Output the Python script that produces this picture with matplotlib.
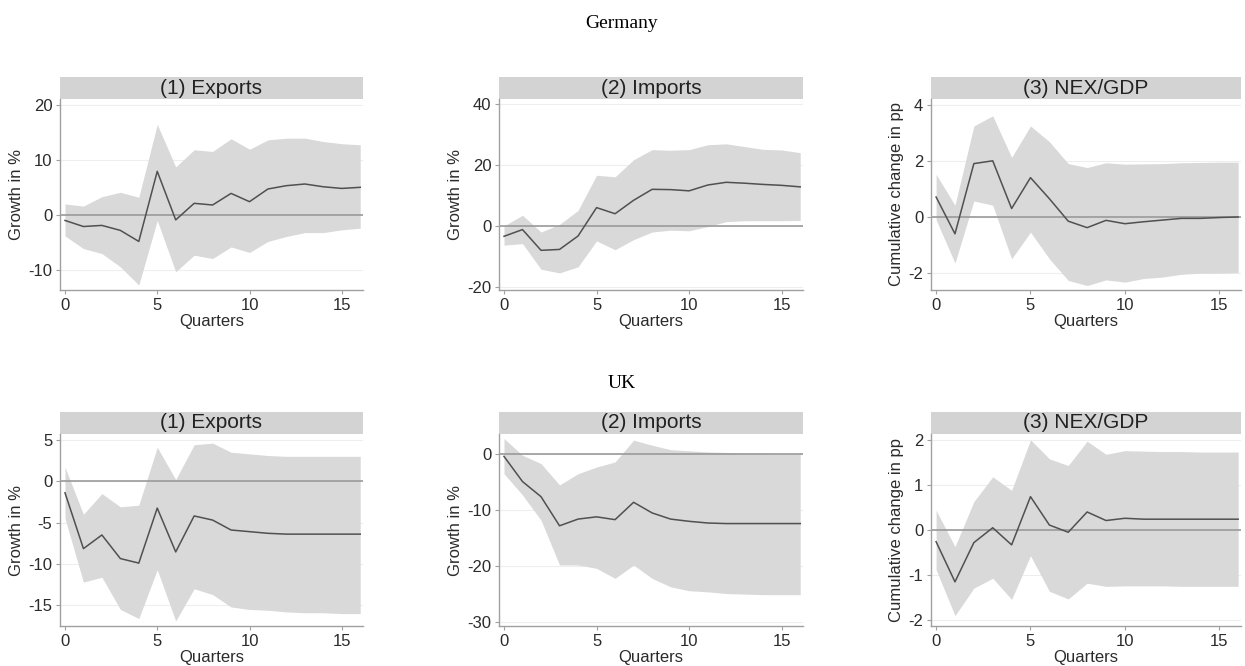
import matplotlib
matplotlib.use("Agg")
import matplotlib.pyplot as plt
from matplotlib.patches import Rectangle

plt.rcParams['font.family'] = ['Liberation Sans', 'DejaVu Sans']
plt.rcParams['axes.unicode_minus'] = False

quarters = list(range(17))

# Germany
de_exp = [-1.0, -2.1, -1.9, -2.8, -4.8, 7.9, -0.9, 2.1, 1.8, 3.9, 2.4, 4.7, 5.3, 5.6, 5.1, 4.8, 5.0]
de_exp_hi = [2.0, 1.6, 3.3, 4.1, 3.2, 16.4, 8.7, 11.8, 11.5, 13.8, 11.9, 13.6, 13.9, 13.9, 13.3, 12.9, 12.7]
de_exp_lo = [-3.8, -6.1, -7.0, -9.4, -12.7, -1.0, -10.3, -7.3, -7.9, -5.8, -6.8, -4.8, -3.9, -3.2, -3.2, -2.7, -2.4]

de_imp = [-3.4, -1.2, -8.0, -7.7, -3.3, 6.0, 4.0, 8.4, 12.0, 11.9, 11.5, 13.4, 14.3, 14.0, 13.6, 13.3, 12.8]
de_imp_hi = [0.0, 3.5, -2.0, 0.5, 5.1, 16.6, 16.1, 21.7, 25.0, 24.8, 25.0, 26.6, 26.9, 26.0, 25.1, 24.9, 24.0]
de_imp_lo = [-6.3, -5.8, -14.2, -15.4, -13.4, -4.9, -7.8, -4.5, -2.0, -1.4, -1.6, -0.2, 1.4, 1.7, 1.7, 1.7, 1.8]

de_nex = [0.71, -0.6, 1.9, 2.0, 0.3, 1.4, 0.65, -0.15, -0.38, -0.12, -0.24, -0.17, -0.11, -0.05, -0.05, -0.02, 0.0]
de_nex_hi = [1.52, 0.42, 3.24, 3.6, 2.12, 3.24, 2.68, 1.9, 1.76, 1.93, 1.88, 1.89, 1.9, 1.93, 1.94, 1.95, 1.95]
de_nex_lo = [-0.1, -1.64, 0.57, 0.42, -1.49, -0.54, -1.49, -2.26, -2.44, -2.24, -2.32, -2.19, -2.14, -2.04, -2.0, -2.0, -1.98]

# UK
uk_exp = [-1.4, -8.15, -6.5, -9.35, -9.9, -3.25, -8.55, -4.2, -4.7, -5.9, -6.1, -6.3, -6.4, -6.4, -6.4, -6.4, -6.4]
uk_exp_hi = [1.7, -4.0, -1.5, -3.1, -2.9, 4.1, 0.2, 4.4, 4.6, 3.5, 3.3, 3.1, 3.0, 3.0, 3.0, 3.0, 3.0]
uk_exp_lo = [-4.5, -12.2, -11.6, -15.5, -16.6, -10.7, -16.9, -13.0, -13.7, -15.2, -15.5, -15.6, -15.8, -15.9, -15.9, -16.0, -16.0]

uk_imp = [-0.4, -4.9, -7.6, -12.8, -11.6, -11.2, -11.7, -8.6, -10.5, -11.6, -12.0, -12.3, -12.4, -12.4, -12.4, -12.4, -12.4]
uk_imp_hi = [2.8, -0.2, -1.7, -5.5, -3.5, -2.3, -1.4, 2.5, 1.6, 0.8, 0.6, 0.4, 0.3, 0.2, 0.1, 0.0, 0.0]
uk_imp_lo = [-3.5, -7.3, -11.8, -19.8, -19.8, -20.4, -22.2, -19.8, -22.2, -23.7, -24.4, -24.6, -24.9, -25.0, -25.1, -25.1, -25.1]

uk_nex = [-0.26, -1.15, -0.28, 0.05, -0.33, 0.74, 0.11, -0.05, 0.40, 0.21, 0.26, 0.24, 0.24, 0.24, 0.24, 0.24, 0.24]
uk_nex_hi = [0.44, -0.37, 0.63, 1.18, 0.88, 2.0, 1.58, 1.43, 1.97, 1.68, 1.76, 1.75, 1.74, 1.74, 1.73, 1.73, 1.73]
uk_nex_lo = [-0.88, -1.9, -1.29, -1.07, -1.54, -0.57, -1.36, -1.53, -1.18, -1.25, -1.24, -1.24, -1.24, -1.25, -1.25, -1.25, -1.25]

panel_titles = ['(1) Exports', '(2) Imports', '(3) NEX/GDP']
y_labels = ['Growth in %', 'Growth in %', 'Cumulative change in pp']

panels = [
  # (row, col, line, hi, lo, ylim, yticks)
  (0, 0, de_exp, de_exp_hi, de_exp_lo, (-13.6, 21.0), [-10, 0, 10, 20]),
  (0, 1, de_imp, de_imp_hi, de_imp_lo, (-21.0, 41.6), [-20, 0, 20, 40]),
  (0, 2, de_nex, de_nex_hi, de_nex_lo, (-2.6, 4.2), [-2, 0, 2, 4]),
  (1, 0, uk_exp, uk_exp_hi, uk_exp_lo, (-17.5, 5.7), [-15, -10, -5, 0, 5]),
  (1, 1, uk_imp, uk_imp_hi, uk_imp_lo, (-30.7, 3.6), [-30, -20, -10, 0]),
  (1, 2, uk_nex, uk_nex_hi, uk_nex_lo, (-2.13, 2.13), [-2, -1, 0, 1, 2]),
]

W, H = 1245, 666
fig = plt.figure(figsize=(W / 100, H / 100), dpi=100)

# pixel boxes for the plot areas (left, right) and (top, bottom)
col_px = [(60, 363), (499, 803), (931, 1241)]
row_px = [(99, 290), (434, 626)]
strip_px = 22

txt = '#2b2b2b'
axis_col = '#a0a0a0'

for row, col, line, hi, lo, ylim, yticks in panels:
  x0, x1 = col_px[col]
  top, bot = row_px[row]
  ax = fig.add_axes([x0 / W, 1 - bot / H, (x1 - x0) / W, (bot - top) / H])

  ax.fill_between(quarters, lo, hi, color='#d9d9d9', linewidth=0)
  ax.axhline(0, color='#9a9a9a', linewidth=1.2)
  ax.plot(quarters, line, color='#505050', linewidth=1.1)

  ax.set_xlim(-0.27, 16.15)
  ax.set_ylim(*ylim)
  ax.set_xticks([0, 5, 10, 15])
  ax.set_yticks(yticks)
  ax.grid(axis='y', color='#eeeeee', linewidth=0.8)
  ax.set_axisbelow(True)

  for s in ['top', 'right']:
    ax.spines[s].set_visible(False)
  for s in ['left', 'bottom']:
    ax.spines[s].set_color(axis_col)
    ax.spines[s].set_linewidth(1.0)
  ax.tick_params(colors=axis_col, labelcolor=txt, labelsize=12, length=3, width=0.8, pad=2.5)

  ax.set_xlabel('Quarters', fontsize=12, color=txt, labelpad=1)
  ax.set_ylabel(y_labels[col], fontsize=12, color=txt, labelpad=3)

  # grey header strip above the plot area
  h = strip_px / (bot - top)
  ax.add_patch(Rectangle((0, 1.0), 1, h, transform=ax.transAxes,
                         facecolor='#d3d3d3', edgecolor='none', clip_on=False))
  ax.text(0.5, 1.0 + h / 2, panel_titles[col], transform=ax.transAxes,
          ha='center', va='center', fontsize=15, color='#222222')

fig.text(622 / W, 1 - 24 / H, 'Germany', ha='center', va='center',
         family='Liberation Serif', fontsize=14)
fig.text(622 / W, 1 - 383 / H, 'UK', ha='center', va='center',
         family='Liberation Serif', fontsize=14)

fig.savefig('out.png', dpi=100, facecolor='white')
